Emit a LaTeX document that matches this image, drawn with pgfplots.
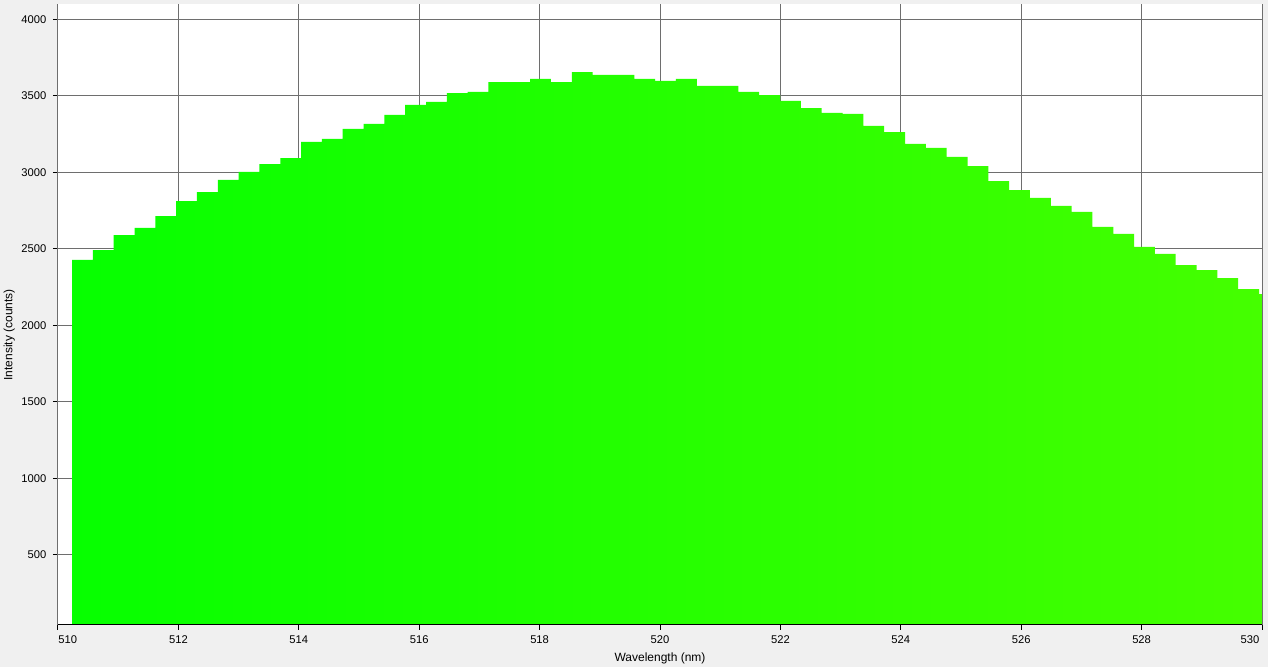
\documentclass[border=0pt]{standalone}
\usepackage{fontspec}
\setmainfont{Liberation Sans}
\usepackage{pgfplots}
\pgfplotsset{compat=1.18}
\definecolor{bgcol}{RGB}{240,240,240}
\definecolor{gridcol}{RGB}{110,110,110}
\definecolor{gleft}{RGB}{6,255,0}
\definecolor{gright}{RGB}{70,255,0}
\begin{document}
\begin{tikzpicture}
\fill[bgcol] (-43.5pt,-31.5pt) rectangle (907.5pt,468.75pt);
\useasboundingbox (-43.5pt,-31.5pt) rectangle (907.5pt,468.75pt);
\begin{axis}[
  at={(0,0)}, anchor=south west,
  scale only axis,
  width=903pt, height=465.75pt,
  xmin=510, xmax=530, ymin=41, ymax=4100,
  xtick={512,514,...,528},
  extra x ticks={510},
  extra x tick style={grid=major, xticklabel style={anchor=north west, xshift=-3.3pt}},
  ytick={500,1000,...,4000},
  axis lines=left,
  axis line style={-, black, line width=0.75pt},
  axis background/.style={fill=white},
  grid=major,
  major grid style={gridcol, line width=0.75pt},
  tick align=outside,
  major tick length=3.75pt,
  tick style={black, line width=0.75pt},
  /pgf/number format/assume math mode=true,
  /pgf/number format/1000 sep={},
  tick label style={font=\fontsize{8.4}{10}\selectfont},
  label style={font=\fontsize{9}{11}\selectfont},
  xlabel={Wavelength (nm)},
  ylabel={Intensity (counts)},
  xlabel style={at={(axis description cs:0.5,0)}, anchor=center, yshift=-25pt},
  ylabel style={at={(axis description cs:-0.0405,0.467)}, anchor=center},
  yticklabel style={xshift=-1.5pt},
  xticklabel style={yshift=-1pt},
  clip=true,
]
\addplot[const plot, draw=none, left color=gleft, right color=gright] table[row sep=\\] {
x y \\
510.233 2427 \\
510.579 2492 \\
510.925 2590 \\
511.271 2636 \\
511.617 2714 \\
511.963 2812 \\
512.308 2871 \\
512.654 2950 \\
513.000 3002 \\
513.346 3054 \\
513.692 3093 \\
514.038 3198 \\
514.384 3218 \\
514.730 3283 \\
515.076 3316 \\
515.422 3375 \\
515.768 3440 \\
516.114 3460 \\
516.460 3518 \\
516.805 3525 \\
517.151 3590 \\
517.497 3590 \\
517.843 3610 \\
518.189 3590 \\
518.535 3655 \\
518.881 3636 \\
519.227 3636 \\
519.573 3610 \\
519.919 3597 \\
520.265 3610 \\
520.611 3564 \\
520.957 3564 \\
521.302 3525 \\
521.648 3505 \\
521.994 3466 \\
522.340 3420 \\
522.686 3388 \\
523.032 3381 \\
523.378 3303 \\
523.724 3263 \\
524.070 3185 \\
524.416 3159 \\
524.762 3100 \\
525.108 3041 \\
525.454 2943 \\
525.799 2884 \\
526.145 2832 \\
526.491 2780 \\
526.837 2741 \\
527.183 2643 \\
527.529 2597 \\
527.875 2512 \\
528.221 2466 \\
528.567 2394 \\
528.913 2361 \\
529.259 2309 \\
529.605 2237 \\
529.951 2204 \\
530.297 2204 \\
} \closedcycle;
\end{axis}
\begin{axis}[
  at={(0,0)}, anchor=south west,
  scale only axis,
  width=903pt, height=465.75pt,
  xmin=510, xmax=530, ymin=41, ymax=4100,
  xtick={530}, ytick=\empty,
  axis lines=left,
  y axis line style={draw=none},
  x axis line style={-, black, line width=0.75pt},
  tick align=outside,
  major tick length=3.75pt,
  tick style={black, line width=0.75pt},
  grid=major,
  major grid style={gridcol, line width=0.75pt},
  /pgf/number format/assume math mode=true,
  tick label style={font=\fontsize{8.4}{10}\selectfont},
  xticklabel style={anchor=north east, yshift=-1pt, xshift=1.5pt},
]
\end{axis}
\end{tikzpicture}
\end{document}
